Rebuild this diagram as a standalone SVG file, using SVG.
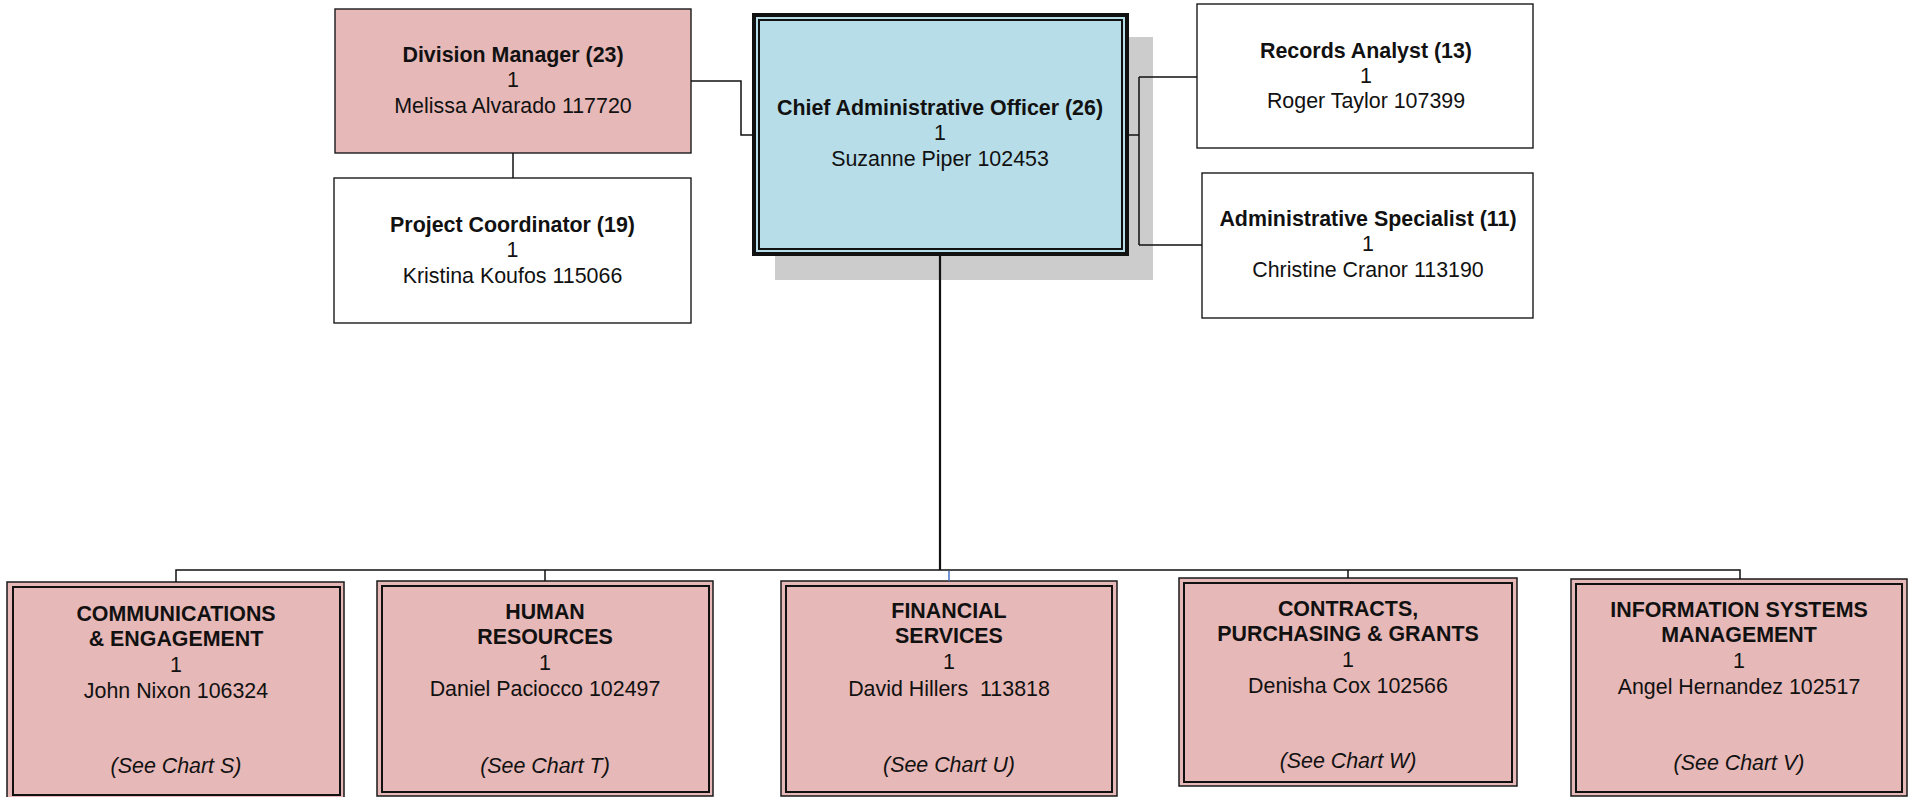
<svg xmlns="http://www.w3.org/2000/svg" width="1913" height="797" viewBox="0 0 1913 797">
<style>
text{font-family:"Liberation Sans",Arial,sans-serif;font-size:21.4px;fill:#111;text-anchor:middle}
.b{font-weight:bold}
.i{font-style:italic}
.box{stroke:#1a1a1a;stroke-width:1.4}
.pink{fill:#E6B8B7}
.white{fill:#fff}
.outer{fill:#E6B8B7;stroke:#1a1a1a;stroke-width:1.5}
.inner{fill:none;stroke:#111;stroke-width:2}
.c{fill:none;stroke:#111;stroke-width:1.5}
</style>
<rect width="1913" height="797" fill="#fff"/>
<g id="division-manager">
<rect class="box pink" x="335" y="9" width="356" height="144"/>
<text class="b" x="513" y="62">Division Manager (23)</text>
<text x="513" y="87">1</text>
<text x="513" y="113">Melissa Alvarado 117720</text>
</g>
<g id="project-coordinator">
<rect class="box white" x="334" y="178" width="357" height="145"/>
<text class="b" x="512.5" y="232">Project Coordinator (19)</text>
<text x="512.5" y="257">1</text>
<text x="512.5" y="283">Kristina Koufos 115066</text>
</g>
<g id="cao">
<rect x="775" y="37" width="378" height="243" fill="#CCCCCC"/>
<rect x="754" y="15" width="373" height="239" fill="#B7DDE8" stroke="#111" stroke-width="4"/>
<rect x="759" y="20" width="363" height="229" fill="none" stroke="#111" stroke-width="2"/>
<text class="b" x="940" y="115">Chief Administrative Officer (26)</text>
<text x="940" y="140">1</text>
<text x="940" y="166">Suzanne Piper 102453</text>
</g>
<g id="records-analyst">
<rect class="box white" x="1197" y="4" width="336" height="144"/>
<text class="b" x="1366" y="58">Records Analyst (13)</text>
<text x="1366" y="83">1</text>
<text x="1366" y="108">Roger Taylor 107399</text>
</g>
<g id="admin-specialist">
<rect class="box white" x="1202" y="173" width="331" height="145"/>
<text class="b" x="1368" y="226">Administrative Specialist (11)</text>
<text x="1368" y="251">1</text>
<text x="1368" y="277">Christine Cranor 113190</text>
</g>
<g id="communications">
<rect class="outer" x="7" y="582" width="337" height="216"/>
<rect class="inner" x="13" y="587" width="327" height="208"/>
<text class="b" x="176" y="621">COMMUNICATIONS</text>
<text class="b" x="176" y="646">&amp; ENGAGEMENT</text>
<text x="176" y="672">1</text>
<text x="176" y="698">John Nixon 106324</text>
<text class="i" x="176" y="773">(See Chart S)</text>
</g>
<g id="human-resources">
<rect class="outer" x="377" y="581" width="336" height="215"/>
<rect class="inner" x="382" y="586" width="327" height="206"/>
<text class="b" x="545" y="619">HUMAN</text>
<text class="b" x="545" y="644">RESOURCES</text>
<text x="545" y="670">1</text>
<text x="545" y="696">Daniel Paciocco 102497</text>
<text class="i" x="545" y="773">(See Chart T)</text>
</g>
<g id="financial-services">
<rect class="outer" x="781" y="581" width="336" height="215"/>
<rect class="inner" x="786" y="586" width="326" height="206"/>
<text class="b" x="949" y="618">FINANCIAL</text>
<text class="b" x="949" y="643">SERVICES</text>
<text x="949" y="669">1</text>
<text x="949" y="696" xml:space="preserve">David Hillers  113818</text>
<text class="i" x="949" y="772">(See Chart U)</text>
</g>
<g id="contracts">
<rect class="outer" x="1179" y="578" width="338" height="208"/>
<rect class="inner" x="1184" y="583" width="328" height="199"/>
<text class="b" x="1348" y="616">CONTRACTS,</text>
<text class="b" x="1348" y="641">PURCHASING &amp; GRANTS</text>
<text x="1348" y="667">1</text>
<text x="1348" y="693">Denisha Cox 102566</text>
<text class="i" x="1348" y="768">(See Chart W)</text>
</g>
<g id="information-systems">
<rect class="outer" x="1571" y="579" width="336" height="217"/>
<rect class="inner" x="1576" y="584" width="326" height="208"/>
<text class="b" x="1739" y="617">INFORMATION SYSTEMS</text>
<text class="b" x="1739" y="642">MANAGEMENT</text>
<text x="1739" y="668">1</text>
<text x="1739" y="694">Angel Hernandez 102517</text>
<text class="i" x="1739" y="770">(See Chart V)</text>
</g>
<g id="connectors">
<path class="c" d="M513,153 V178"/>
<path class="c" d="M691,81 H741 V135 H752"/>
<path class="c" d="M1129,135 H1139 M1139,77 V245 M1139,77 H1197 M1139,245 H1202"/>
<path class="c" d="M940,256 V570" style="stroke-width:2.2"/>
<path class="c" d="M176,582 V570 H1740 V579"/>
<path class="c" d="M545,570 V581 M1348,570 V578"/>
<path class="c" d="M949,571 V581" style="stroke:#4472C4"/>
</g>
</svg>
